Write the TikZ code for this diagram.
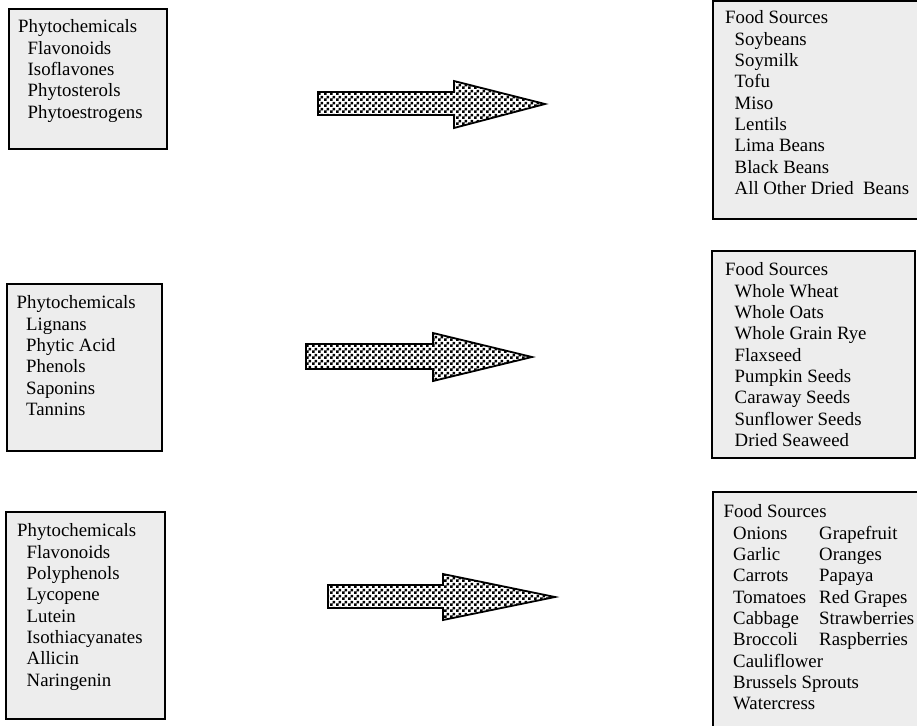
\documentclass[tikz,border=0pt]{standalone}
\usepackage{fontspec}
\setmainfont{Liberation Serif}
\usetikzlibrary{patterns}
\pgfdeclarepatternformonly{chk}{\pgfpointorigin}{\pgfqpoint{6pt}{6pt}}{\pgfqpoint{6pt}{6pt}}{%
  \pgfpathrectangle{\pgfpointorigin}{\pgfqpoint{3pt}{3pt}}%
  \pgfpathrectangle{\pgfqpoint{3pt}{3pt}}{\pgfqpoint{3pt}{3pt}}%
  \pgfusepath{fill}}
\newcommand{\ind}{\hspace*{9.5pt}}
\newcommand{\colA}[1]{\makebox[86pt][l]{#1}}
\begin{document}
\begin{tikzpicture}[x=1pt,y=-1pt,
  box/.style={draw=black, line width=2pt, fill=black!7},
  txt/.style={anchor=north west, inner sep=0pt, align=left,
    font=\fontsize{18.8}{21.3}\selectfont},
  blockarrow/.style={draw=black, line width=1.8pt, pattern=chk, pattern color=black, line join=miter}]
\useasboundingbox (0,0) rectangle (917,725);
\clip (0,0) rectangle (917,725);
\fill[white] (0,0) rectangle (917,725);
% left boxes
\draw[box] (9,9) rectangle (167,149);
\coordinate (b1) at (9,9);
\draw[box] (7,284) rectangle (162,451);
\draw[box] (6,512) rectangle (165,719);
% right boxes
\draw[box] (713,1) rectangle (930,219);
\draw[box] (712,251) rectangle (915,458);
\draw[box] (713,492) rectangle (930,735);
% texts
\node[txt] (t1) at (18,19.7) {Phytochemicals\\\ind Flavonoids\\\ind Isoflavones\\\ind Phytosterols\\\ind Phytoestrogens};
\node[txt] (t2) at (16.5,295.7) {Phytochemicals\\\ind Lignans\\\ind Phytic Acid\\\ind Phenols\\\ind Saponins\\\ind Tannins};
\node[txt] (t3) at (17,523.7) {Phytochemicals\\\ind Flavonoids\\\ind Polyphenols\\\ind Lycopene\\\ind Lutein\\\ind Isothiacyanates\\\ind Allicin\\\ind Naringenin};
\node[txt] (r1) at (725,10.7) {Food Sources\\\ind Soybeans\\\ind Soymilk\\\ind Tofu\\\ind Miso\\\ind Lentils\\\ind Lima Beans\\\ind Black Beans\\\ind All Other Dried\ \ Beans};
\node[txt] (r2) at (725,262.7) {Food Sources\\\ind Whole Wheat\\\ind Whole Oats\\\ind Whole Grain Rye\\\ind Flaxseed\\\ind Pumpkin Seeds\\\ind Caraway Seeds\\\ind Sunflower Seeds\\\ind Dried Seaweed};
\node[txt] (r3) at (723.5,504.7) {Food Sources\\\ind\colA{Onions}Grapefruit\\\ind\colA{Garlic}Oranges\\\ind\colA{Carrots}Papaya\\\ind\colA{Tomatoes}Red Grapes\\\ind\colA{Cabbage}Strawberries\\\ind\colA{Broccoli}Raspberries\\\ind Cauliflower\\\ind Brussels Sprouts\\\ind Watercress};
% block arrows
\draw[blockarrow] (318,92) -- (454,92) -- (454,81) -- (545,104) -- (454,128) -- (454,115) -- (318,115) -- cycle;
\draw[blockarrow] (306,344) -- (433,344) -- (433,333) -- (532,357) -- (433,381) -- (433,369) -- (306,369) -- cycle;
\draw[blockarrow] (328,585) -- (443,585) -- (443,574) -- (555,597) -- (443,620) -- (443,608) -- (328,608) -- cycle;
\end{tikzpicture}
\end{document}
